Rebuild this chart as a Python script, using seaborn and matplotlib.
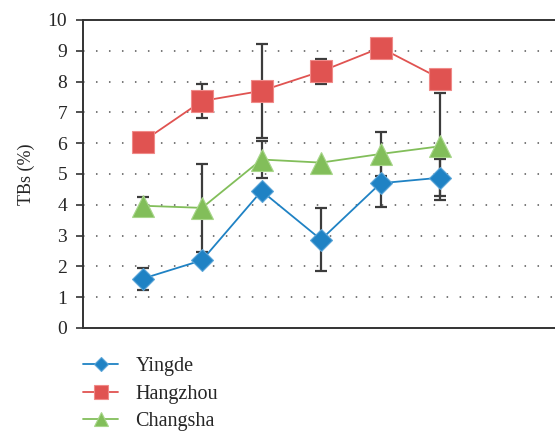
import matplotlib
matplotlib.use("Agg")
import matplotlib.pyplot as plt
import seaborn as sns
import pandas as pd
import numpy as np

# Sampling positions (no labels shown on the x axis)
positions = [0, 1, 2, 3, 4, 5]

sites = ["Yingde", "Hangzhou", "Changsha"]

yingde = [1.60, 2.20, 4.45, 2.87, 4.70, 4.88]
hangzhou = [6.05, 7.37, 7.70, 8.33, 9.10, 8.10]
changsha = [3.97, 3.90, 5.47, 5.37, 5.65, 5.90]

# Error bars (lower, upper); NaN means no bar drawn at that point
yingde_err_lo = [0.36, np.nan, np.nan, 1.01, 0.77, 0.60]
yingde_err_hi = [0.36, np.nan, np.nan, 1.01, 0.77, 0.60]
hangzhou_err_lo = [np.nan, 0.56, 1.52, 0.40, np.nan, np.nan]
hangzhou_err_hi = [np.nan, 0.56, 1.52, 0.40, np.nan, np.nan]
changsha_err_lo = [0.27, 1.43, 0.60, np.nan, 0.72, 1.73]
changsha_err_hi = [0.27, 1.43, 0.60, np.nan, 0.72, 1.73]

colors = {"Yingde": "#1f82c4", "Hangzhou": "#e05351", "Changsha": "#82be5a"}
edge_colors = {"Yingde": "#5aa5d8", "Hangzhou": "#f08a88", "Changsha": "#a8d68a"}
markers = {"Yingde": "D", "Hangzhou": "s", "Changsha": "^"}
msizes = {"Yingde": 11, "Hangzhou": 16, "Changsha": 15.5}

values = {"Yingde": yingde, "Hangzhou": hangzhou, "Changsha": changsha}
errs = {
    "Yingde": (yingde_err_lo, yingde_err_hi),
    "Hangzhou": (hangzhou_err_lo, hangzhou_err_hi),
    "Changsha": (changsha_err_lo, changsha_err_hi),
}

df = pd.concat(
    [pd.DataFrame({"pos": positions, "TBs": values[s], "site": s}) for s in sites],
    ignore_index=True,
)

sns.set_theme(style="white")
plt.rcParams["font.family"] = ["Liberation Serif", "DejaVu Serif"]

fig = plt.figure(figsize=(5.55, 4.32), dpi=100)
ax = fig.add_axes([83 / 555, 1 - 328 / 432, 1 - 83 / 555 + 0.002, (328 - 20) / 432])

# Dotted horizontal grid
for yv in range(1, 10):
    ax.axhline(yv, color="#555555", lw=1.1, ls=(0, (1, 7.5)), zorder=0)

# Error bars sit beneath the markers
for s in sites:
    lo, hi = errs[s]
    lo = np.asarray(lo, float)
    hi = np.asarray(hi, float)
    mask = ~np.isnan(lo)
    xs = np.asarray(positions)[mask]
    ys = np.asarray(values[s])[mask]
    ax.errorbar(xs, ys, yerr=[lo[mask], hi[mask]], fmt="none",
                ecolor="#3c3c3c", elinewidth=1.6, capsize=4.5, capthick=1.6, zorder=2)

for s in sites:
    sns.lineplot(data=df[df["site"] == s], x="pos", y="TBs", ax=ax,
                 color=colors[s], marker=markers[s], markersize=msizes[s],
                 markeredgecolor=edge_colors[s], markeredgewidth=0.8,
                 lw=1.3, label=s, zorder=3)

ax.set_xlim(-1, 6.95)
ax.set_ylim(0, 10)
ax.set_yticks(range(0, 11))
ax.set_xticks([])
ax.set_xlabel("")
ax.set_ylabel("TBs (%)", fontsize=13, labelpad=9)
ax.tick_params(axis="y", which="both", left=True, direction="out", length=5,
               width=1.2, color="#333333", labelsize=14, pad=6.5)

for side in ["left", "bottom", "top"]:
    ax.spines[side].set_color("#333333")
    ax.spines[side].set_linewidth(1.4)
ax.spines["right"].set_visible(False)

ax.get_legend().remove()
handles, labels = ax.get_legend_handles_labels()
fig.legend(handles, labels, loc="upper left", bbox_to_anchor=(83 / 555, 1 - 357 / 432),
           frameon=False, fontsize=14.5, handlelength=1.75, handletextpad=0.85,
           labelspacing=0.42, borderpad=0, borderaxespad=0, markerscale=0.65)

fig.savefig("out.png", dpi=100)
